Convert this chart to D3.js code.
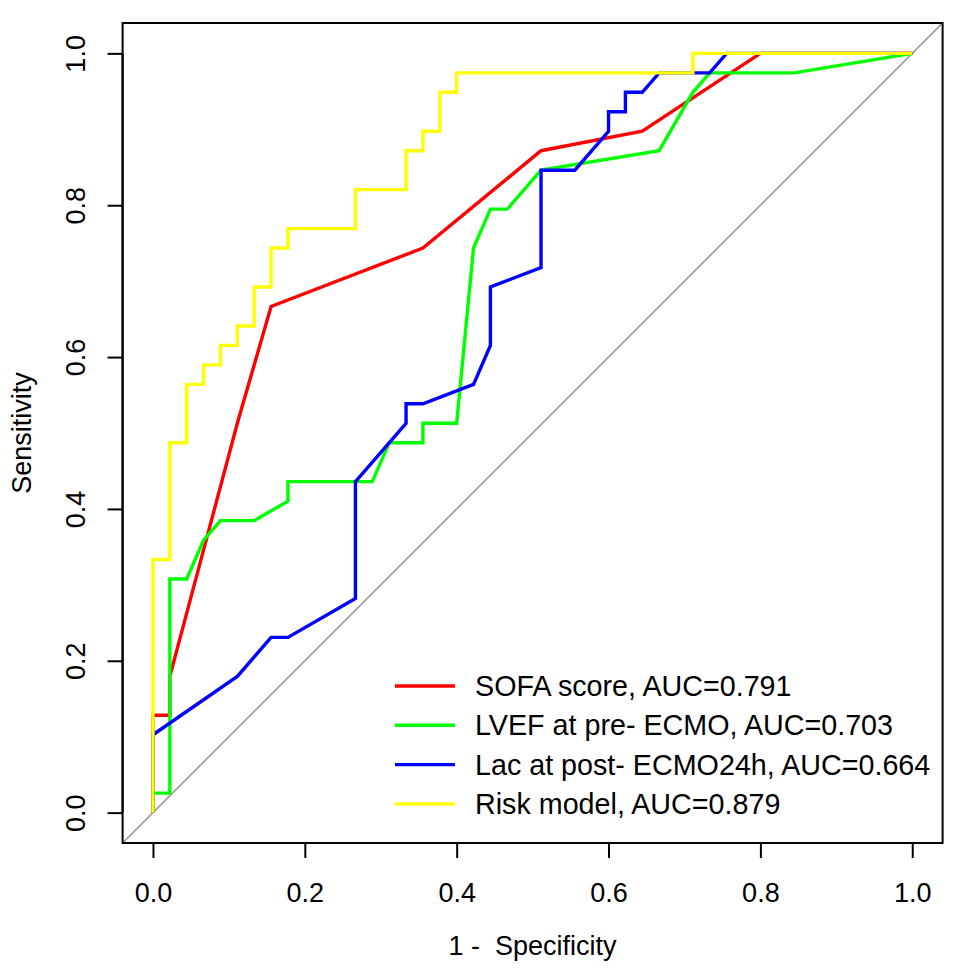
<!DOCTYPE html>
<html>
<head>
<meta charset="utf-8">
<script src="https://cdn.jsdelivr.net/npm/d3@7"></script>
<style>
  html, body { margin: 0; padding: 0; background: #fff; }
  svg { display: block; }
  text { font-family: "Liberation Sans", Arial, Helvetica, sans-serif; fill: #000; white-space: pre; }
</style>
</head>
<body>
<svg id="chart" width="974" height="977"></svg>
<script>
// ---- data (counts: 45 negatives, 39 positives) ----
const nNeg = 45;
const nPos = 39;

const seriesNames = ["SOFA score", "LVEF at pre- ECMO", "Lac at post- ECMO24h", "Risk model"];
const seriesAUC = ["0.791", "0.703", "0.664", "0.879"];
const seriesColors = ["#FF0000", "#00FF00", "#0000FF", "#FFFF00"];

// false-positive counts (x) and true-positive counts (y) for each ROC path
const sofaFP = [0, 0, 1, 1, 5, 7, 16, 23, 29, 36, 45];
const sofaTP = [0, 5, 5, 7, 20, 26, 29, 34, 35, 39, 39];

const lvefFP = [0, 0, 1, 1, 2, 3, 4, 6, 8, 8, 13, 14, 16, 16, 18, 19, 20, 21, 23, 30, 32, 33, 38, 45];
const lvefTP = [0, 1, 1, 12, 12, 14, 15, 15, 16, 17, 17, 19, 19, 20, 20, 29, 31, 31, 33, 34, 37, 38, 38, 39];

const lacFP = [0, 0, 5, 7, 8, 12, 12, 15, 15, 16, 19, 20, 20, 23, 23, 25, 27, 27, 28, 28, 29, 30, 33, 34, 45];
const lacTP = [0, 4, 7, 9, 9, 11, 17, 20, 21, 21, 22, 24, 27, 28, 33, 33, 35, 36, 36, 37, 37, 38, 38, 39, 39];

const riskFP = [0, 0, 1, 1, 2, 2, 3, 3, 4, 4, 5, 5, 6, 6, 7, 7, 8, 8, 12, 12, 15, 15, 16, 16, 17, 17, 18, 18, 32, 32, 45];
const riskTP = [0, 13, 13, 19, 19, 22, 22, 23, 23, 24, 24, 25, 25, 27, 27, 29, 29, 30, 30, 32, 32, 34, 34, 35, 35, 37, 37, 38, 38, 39, 39];

const tickValues = [0.0, 0.2, 0.4, 0.6, 0.8, 1.0];
const xTitle = "1 -  Specificity";
const yTitle = "Sensitivity";

// ---- layout ----
const FONT = 27;
const LEGFONT = 28.7;
const box = { left: 122.6, right: 942.6, top: 23, bottom: 843 };

const svg = d3.select("#chart");
const x = d3.scaleLinear().domain([-0.04, 1.04]).range([box.left, box.right]);
const y = d3.scaleLinear().domain([-0.04, 1.04]).range([box.bottom, box.top]);

svg.append("defs").append("clipPath").attr("id", "plotclip")
  .append("rect")
  .attr("x", box.left).attr("y", box.top)
  .attr("width", box.right - box.left).attr("height", box.bottom - box.top);

// diagonal reference line
svg.append("line")
  .attr("clip-path", "url(#plotclip)")
  .attr("x1", x(-0.04)).attr("y1", y(-0.04))
  .attr("x2", x(1.04)).attr("y2", y(1.04))
  .attr("stroke", "#9a9a9a").attr("stroke-width", 1.6);

// ROC curves
const series = [
  { fp: sofaFP, tp: sofaTP },
  { fp: lvefFP, tp: lvefTP },
  { fp: lacFP, tp: lacTP },
  { fp: riskFP, tp: riskTP }
];
const line = d3.line().x(d => x(d[0])).y(d => y(d[1]));
series.forEach((s, k) => {
  const pts = s.fp.map((f, i) => [f / nNeg, s.tp[i] / nPos]);
  svg.append("path")
    .attr("d", line(pts))
    .attr("fill", "none")
    .attr("stroke", seriesColors[k])
    .attr("stroke-width", 3.4)
    .attr("stroke-linejoin", "miter")
    .attr("stroke-linecap", "butt");
});

// box
svg.append("rect")
  .attr("x", box.left).attr("y", box.top)
  .attr("width", box.right - box.left).attr("height", box.bottom - box.top)
  .attr("fill", "none").attr("stroke", "#000").attr("stroke-width", 2);

// axes
const xAxis = d3.axisBottom(x).tickValues(tickValues).tickFormat(d3.format(".1f"))
  .tickSize(15).tickSizeOuter(0).tickPadding(0);
const gx = svg.append("g").attr("transform", `translate(0,${box.bottom})`).call(xAxis);
gx.select(".domain").attr("stroke-width", 2).attr("d", `M${x(0)},0H${x(1)}`);
gx.selectAll(".tick line").attr("stroke-width", 2);
gx.selectAll(".tick text")
  .attr("font-size", FONT).attr("font-family", null)
  .attr("y", 59).attr("dy", 0);

const yAxis = d3.axisLeft(y).tickValues(tickValues).tickFormat(d3.format(".1f"))
  .tickSize(15).tickSizeOuter(0).tickPadding(0);
const gy = svg.append("g").attr("transform", `translate(${box.left},0)`).call(yAxis);
gy.select(".domain").attr("stroke-width", 2).attr("d", `M0,${y(0)}V${y(1)}`);
gy.selectAll(".tick line").attr("stroke-width", 2);
gy.selectAll(".tick text")
  .attr("font-size", FONT).attr("font-family", null)
  .attr("x", 0).attr("y", 0).attr("dy", 0)
  .attr("text-anchor", "middle")
  .attr("transform", "translate(-38,0) rotate(-90)");

// axis titles
svg.append("text")
  .attr("x", (x(0) + x(1)) / 2).attr("y", 955)
  .attr("text-anchor", "middle").attr("font-size", FONT)
  .text(xTitle);
svg.append("text")
  .attr("transform", `translate(31,${(y(0) + y(1)) / 2}) rotate(-90)`)
  .attr("text-anchor", "middle").attr("font-size", FONT)
  .text(yTitle);

// legend
const legY0 = 686, legDy = 39.3;
const leg = svg.append("g");
seriesNames.forEach((nm, k) => {
  const yy = legY0 + k * legDy;
  leg.append("line")
    .attr("x1", 395).attr("x2", 455).attr("y1", yy).attr("y2", yy)
    .attr("stroke", seriesColors[k]).attr("stroke-width", 3.4);
  leg.append("text")
    .attr("x", 475).attr("y", yy).attr("dy", "0.35em")
    .attr("font-size", LEGFONT)
    .text(`${nm}, AUC=${seriesAUC[k]}`);
});
</script>
</body>
</html>
